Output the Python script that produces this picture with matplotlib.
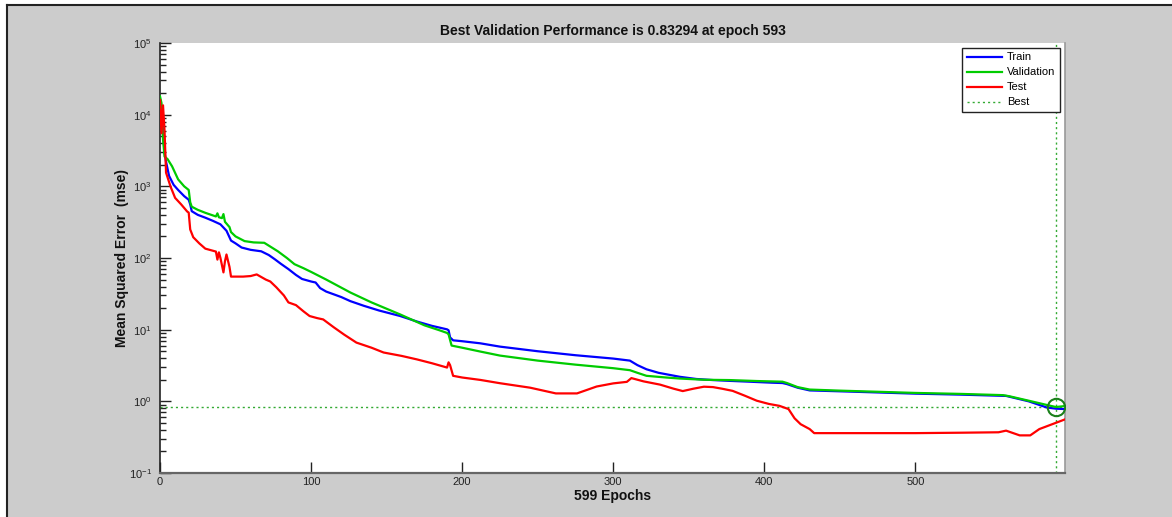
import matplotlib
matplotlib.use('Agg')
import matplotlib.pyplot as plt
from matplotlib.ticker import LogLocator, FixedLocator, NullFormatter, FixedFormatter
from matplotlib.lines import Line2D
from matplotlib.patches import Rectangle

plt.rcParams['font.family'] = ['Liberation Sans', 'DejaVu Sans']
plt.rcParams['mathtext.fontset'] = 'custom'
plt.rcParams['mathtext.rm'] = 'Liberation Sans'
plt.rcParams['mathtext.it'] = 'Liberation Sans:italic'
plt.rcParams['mathtext.bf'] = 'Liberation Sans:bold'

# ---------------- data ----------------
train_epochs = [0, 1, 2, 3, 4, 6, 9, 12, 16, 19, 20, 21, 25, 30, 35, 40, 44, 47, 50, 54,
                60, 67, 72, 76, 80, 85, 90, 94, 100, 103, 106, 110, 120, 126, 135, 145,
                159, 170, 180, 190, 191, 192, 194, 200, 212, 225, 250, 275, 300, 311,
                316, 322, 330, 344, 355, 366, 377, 390, 405, 412, 415, 422, 430, 450,
                475, 500, 530, 560, 575, 587, 593, 599]
train_mse = [1.2e4, 1.0e4, 6e3, 3e3, 2.2e3, 1.4e3, 1.05e3, 890, 730, 650, 560, 450, 400,
             365, 330, 295, 240, 175, 160, 140, 130, 124, 110, 96, 83, 70, 58, 51, 47,
             45.5, 38, 34, 28.5, 25, 21.5, 18.5, 15.5, 13, 11.3, 10.1, 9.8, 7.8, 7.1,
             6.9, 6.45, 5.8, 5.0, 4.4, 3.95, 3.7, 3.2, 2.8, 2.5, 2.2, 2.05, 1.98, 1.93,
             1.88, 1.82, 1.80, 1.74, 1.55, 1.42, 1.38, 1.33, 1.28, 1.24, 1.19, 1.0,
             0.82, 0.79, 0.78]

val_epochs = [0, 1, 2, 3, 5, 8, 12, 16, 19, 20, 21, 25, 30, 37, 38, 39, 41, 42, 43, 46,
              47, 50, 56, 62, 69, 74, 78, 84, 89, 95, 100, 110, 126, 140, 159, 175, 185,
              190, 191, 193, 200, 212, 225, 250, 275, 300, 311, 316, 322, 335, 344, 360,
              377, 395, 412, 415, 422, 430, 450, 475, 500, 530, 558, 562, 575, 587, 593,
              599]
val_mse = [1.8e4, 1.45e4, 4.5e3, 2.6e3, 2.4e3, 1.9e3, 1.25e3, 1.0e3, 890, 600, 520, 470,
           427, 380, 420, 370, 360, 410, 320, 270, 230, 200, 172, 165, 163, 140, 124, 100,
           82, 72, 64, 50, 33, 24, 16.3, 11.5, 9.8, 9.0, 8.6, 6.0, 5.6, 4.95, 4.35, 3.7,
           3.25, 2.9, 2.72, 2.5, 2.27, 2.15, 2.08, 2.0, 1.98, 1.92, 1.88, 1.80, 1.58,
           1.46, 1.41, 1.36, 1.31, 1.27, 1.22, 1.18, 1.02, 0.89, 0.83294, 0.86]

test_epochs = [0, 1, 2, 3, 4, 7, 10, 14, 18, 19, 20, 22, 26, 30, 37, 38, 39, 40, 42, 43,
               44, 46, 47, 55, 60, 64, 70, 73, 77, 82, 85, 90, 95, 99, 104, 108, 115, 122,
               130, 140, 148, 160, 170, 180, 190, 191, 192, 194, 200, 212, 225, 245, 262,
               276, 289, 300, 309, 312, 320, 331, 340, 346, 353, 360, 366, 372, 379, 387,
               395, 403, 410, 416, 420, 424, 430, 433, 500, 531, 555, 560, 569, 576, 582,
               599]
test_mse = [1.6e4, 5.5e3, 1.35e4, 6e3, 1.55e3, 990, 690, 560, 445, 430, 250, 195, 160,
            135, 123, 95, 120, 100, 63, 90, 112, 75, 55, 55, 56, 59, 50, 47, 39, 30, 24,
            22, 18, 15.5, 14.5, 13.9, 10.8, 8.5, 6.6, 5.6, 4.8, 4.3, 3.85, 3.4, 2.96, 3.5,
            3.2, 2.27, 2.15, 1.99, 1.79, 1.55, 1.29, 1.29, 1.61, 1.78, 1.87, 2.11, 1.9,
            1.71, 1.5, 1.39, 1.5, 1.6, 1.58, 1.5, 1.40, 1.2, 1.02, 0.92, 0.865, 0.78,
            0.58, 0.48, 0.41, 0.36, 0.36, 0.365, 0.37, 0.39, 0.335, 0.335, 0.41, 0.56]

best_epoch = 593
best_perf = 0.83294
n_epochs = 599
x_ticks = [0, 100, 200, 300, 400, 500]
y_ticks = [0.1, 1, 10, 100, 1000, 10000, 100000]
y_tick_labels = [r'$\mathdefault{10^{-1}}$', r'$\mathdefault{10^{0}}$', r'$\mathdefault{10^{1}}$',
                 r'$\mathdefault{10^{2}}$', r'$\mathdefault{10^{3}}$', r'$\mathdefault{10^{4}}$',
                 r'$\mathdefault{10^{5}}$']

# ---------------- figure ----------------
W, H = 1172, 517
fig = plt.figure(figsize=(W / 100, H / 100), dpi=100)
fig.patch.set_facecolor('white')
fig.patches.append(Rectangle((7 / W, -0.05), 1.2, (H - 5) / H + 0.05, transform=fig.transFigure,
                             facecolor='#cccccc', edgecolor='none', zorder=-10))
fig.add_artist(Line2D([7 / W, 7 / W], [-0.05, (H - 5) / H], color='#222222', lw=1.5))
fig.add_artist(Line2D([7 / W, 1.05], [(H - 5) / H, (H - 5) / H], color='#222222', lw=1.5))

ax = fig.add_axes([160 / W, (H - 473) / H, 905 / W, 430 / H])
ax.set_facecolor('white')

ax.plot(train_epochs, train_mse, color='#0000ff', lw=1.6, label='Train', zorder=3)
ax.plot(val_epochs, val_mse, color='#00cc00', lw=1.6, label='Validation', zorder=3)
ax.plot(test_epochs, test_mse, color='#ff0000', lw=1.6, label='Test', zorder=3)
ax.plot([0, n_epochs], [best_perf, best_perf], color='#33aa33', lw=1.0,
        linestyle=(0, (1.5, 2.2)), label='Best', zorder=2)
ax.plot([best_epoch, best_epoch], [0.1, 1e5], color='#33aa33', lw=1.0,
        linestyle=(0, (1.5, 2.2)), zorder=2)
ax.plot([best_epoch], [best_perf], marker='o', ms=12.5, mfc='none', mec='#1a801a',
        mew=1.5, linestyle='none', zorder=4)

ax.set_yscale('log')
ax.set_xlim(0, n_epochs)
ax.set_ylim(0.1, 1e5)
ax.xaxis.set_major_locator(FixedLocator(x_ticks))
ax.yaxis.set_major_locator(FixedLocator(y_ticks))
ax.yaxis.set_major_formatter(FixedFormatter(y_tick_labels))
ax.yaxis.set_minor_locator(LogLocator(base=10, subs=range(2, 10), numticks=20))
ax.yaxis.set_minor_formatter(NullFormatter())

ax.tick_params(axis='both', which='major', direction='in', length=8, width=1,
               colors='#222222', labelsize=8, labelcolor='#222222')
ax.tick_params(axis='y', which='major', pad=6)
ax.tick_params(axis='x', which='major', pad=3)
ax.tick_params(axis='y', which='minor', direction='in', length=4.5, width=1, colors='#222222')
ax.tick_params(top=False, right=False, which='both')

ax.spines['top'].set_visible(False)
ax.spines['left'].set_color('#222222')
ax.spines['left'].set_linewidth(1.2)
ax.spines['bottom'].set_color('#666666')
ax.spines['bottom'].set_linewidth(1.6)
ax.spines['right'].set_color('#999999')
ax.spines['right'].set_linewidth(1.2)

ax.set_title('Best Validation Performance is 0.83294 at epoch 593', fontsize=10,
             fontweight='bold', pad=6, color='#111111')
ax.set_xlabel('599 Epochs', fontsize=10, fontweight='bold', labelpad=1, color='#111111')
ax.set_ylabel('Mean Squared Error  (mse)', fontsize=10, fontweight='bold', labelpad=0,
              color='#111111')

leg = ax.legend(loc='upper right', bbox_to_anchor=(0.9945, 0.9884), fontsize=8,
                frameon=True, fancybox=False, framealpha=1, edgecolor='#222222',
                borderpad=0.4, labelspacing=0.45, handlelength=3.2, handletextpad=0.45,
                borderaxespad=0)
leg.get_frame().set_linewidth(1.0)
leg.set_zorder(10)

fig.savefig('out.png', dpi=100, facecolor=fig.get_facecolor())
